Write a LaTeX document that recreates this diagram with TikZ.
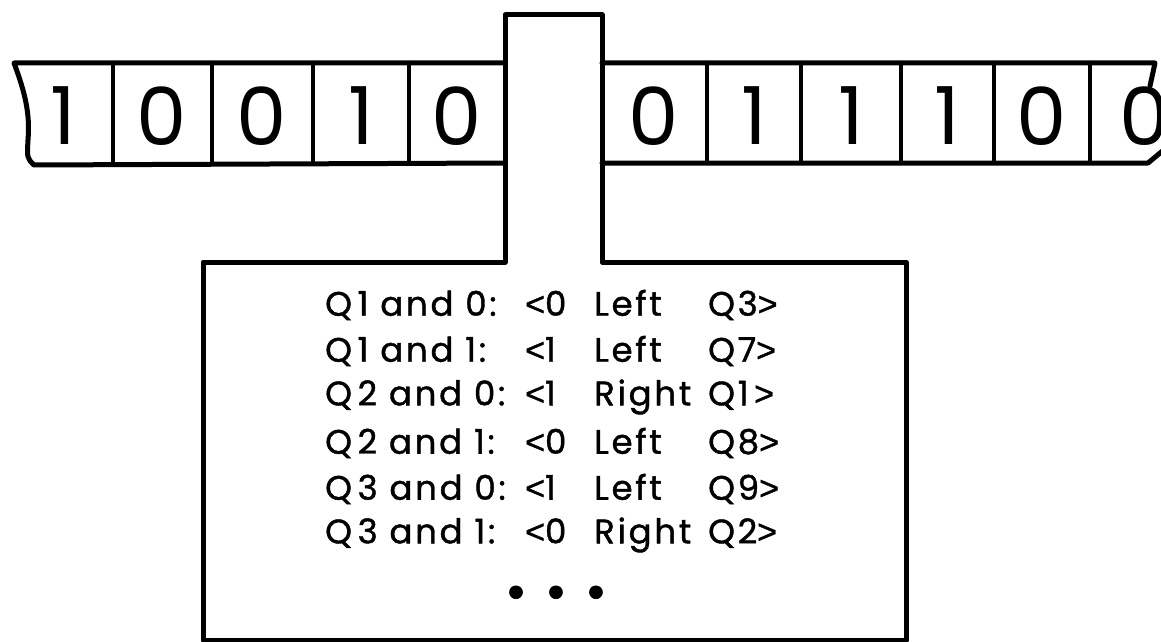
\documentclass[tikz,border=0pt]{standalone}
\usepackage{fontspec}
\newfontfamily\tapefont{Poppins}
\newfontfamily\rulefont[LetterSpace=8,FakeBold=1.2]{Poppins}
\newfontfamily\signfont[FakeBold=1.2]{Liberation Sans}
\usetikzlibrary{positioning,calc}
\newcommand{\lt}{{\signfont<}}
\newcommand{\gt}{{\signfont>}}
\newcommand{\tmrow}[4]{\makebox[200pt][l]{#1}\makebox[69pt][l]{#2}\makebox[114pt][l]{#3}#4}

\begin{document}
\begin{tikzpicture}[
    x=1pt, y=-1pt,
    line join=round, line cap=round,
    tapeline/.style={line width=5pt},
    divider/.style={line width=4pt},
    symbol/.style={font=\tapefont\fontsize{80}{80}\selectfont, inner sep=0pt},
    rule/.style={font=\rulefont\fontsize{34}{40}\selectfont, inner sep=0pt, anchor=west}
]
\useasboundingbox (0,0) rectangle (1161,642);
\clip (0,0) rectangle (1161,642);
% tape left of the head
\draw[tapeline] (505,63) -- (14,63) .. controls (26,95) and (30,115) .. (28,140)
    .. controls (27,158) .. (34,165) -- (505,163);
% tape right of the head
\draw[tapeline] (602,63) -- (1155,63) -- (1150,86);
\draw[tapeline] (602,163) -- (1148,163) -- (1166,148);
\foreach \x in {113,212,313,409,707,801,901,994,1090}
    \draw[divider] (\x,63) -- (\x,163);
\foreach \x/\s [count=\i] in {63/1,162/0,262/0,361/1,457/0,654/0,754/1,851/1,947/1,1042/0,1145/0}
    \node[symbol] (s\i) at (\x,116) {\s};
% head and control box
\draw[tapeline] (505,262) -- (505,15) -- (602,15) -- (602,262) -- (906,262)
    -- (906,640) -- (203,640) -- (203,262) -- cycle;
\foreach \a/\b/\c/\d [count=\i] in {Q\,1 and 0:/\lt0/Left/Q3\gt,
                                    Q\,1 and 1:/\lt1/Left/Q7\gt,
                                    Q\,2 and 0:/\lt1/Right/Q1\,\gt,
                                    Q\,2 and 1:/\lt0/Left/Q8\gt,
                                    Q\,3 and 0:/\lt1/Left/Q9\gt,
                                    Q\,3 and 1:/\lt0/Right/Q2\gt}
    \node[rule] (r\i) at (325,259+46*\i) {\tmrow{\a}{\b}{\c}{\d}};
\node[inner sep=0pt, font=\signfont\fontsize{48}{48}\selectfont] (dots) at (556,597)
    {\makebox[40pt]{•}\makebox[40pt]{•}\makebox[40pt]{•}};
\end{tikzpicture}
\end{document}
